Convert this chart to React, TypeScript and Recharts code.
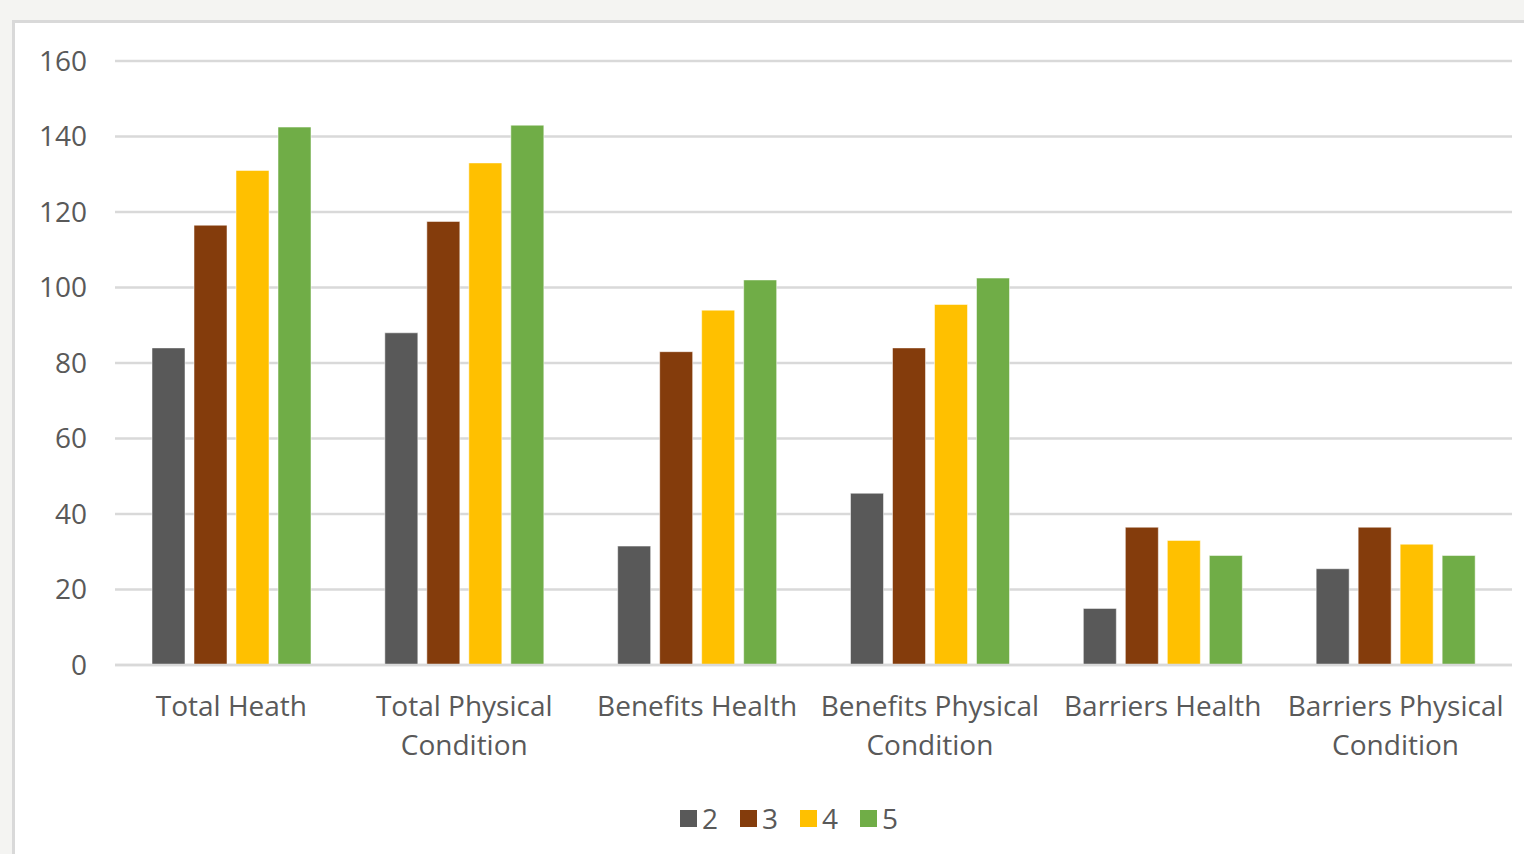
import React from 'react';
import { Bar, BarChart, CartesianGrid, XAxis, YAxis } from 'recharts';

const categories = [
  'Total Heath',
  'Total Physical\nCondition',
  'Benefits Health',
  'Benefits Physical\nCondition',
  'Barriers Health',
  'Barriers Physical\nCondition'
];

const series2 = [84, 88, 31.5, 45.5, 15, 25.5];
const series3 = [116.5, 117.5, 83, 84, 36.5, 36.5];
const series4 = [131, 133, 94, 95.5, 33, 32];
const series5 = [142.5, 143, 102, 102.5, 29, 29];

const seriesKeys = ['2', '3', '4', '5'];
const seriesColors = ['#595959', '#843c0c', '#ffc000', '#70ad47'];
const yTicks = [0, 20, 40, 60, 80, 100, 120, 140, 160];

const FONT = '"Open Sans", "Noto Sans", sans-serif';
const TEXT_COLOR = '#595959';
const FONT_SIZE = 28;

const data = categories.map((name, i) => ({
  name,
  '2': series2[i],
  '3': series3[i],
  '4': series4[i],
  '5': series5[i]
}));

const CategoryTick = (props: any) => {
  const { x, y, payload } = props;
  const lines = String(payload.value).split('\n');
  return (
    <text x={x} y={y} textAnchor="middle" fill={TEXT_COLOR} fontSize={FONT_SIZE} fontFamily={FONT}>
      {lines.map((line, i) => (
        <tspan key={i} x={x} dy={i === 0 ? 33 : 39}>
          {line}
        </tspan>
      ))}
    </text>
  );
};

const App: React.FC = () => {
  return (
    <div
      style={{
        position: 'absolute',
        left: 0,
        top: 0,
        width: 1524,
        height: 854,
        background: '#f4f4f2',
        overflow: 'hidden',
        fontFamily: FONT
      }}
    >
      <div
        style={{
          position: 'absolute',
          left: 12,
          top: 20,
          width: 1530,
          height: 860,
          background: '#ffffff',
          border: '3px solid #d9d9d9',
          boxSizing: 'border-box'
        }}
      />
      <div style={{ position: 'absolute', left: 0, top: 0 }}>
        <BarChart
          width={1524}
          height={854}
          data={data}
          margin={{ top: 61, right: 12, left: 15, bottom: 89 }}
          barSize={33}
          barGap={9}
        >
          <CartesianGrid vertical={false} stroke="#d9d9d9" strokeWidth={2.5} />
          <XAxis
            dataKey="name"
            height={100}
            tickLine={false}
            axisLine={{ stroke: '#d9d9d9', strokeWidth: 2.5 }}
            tick={<CategoryTick />}
            tickMargin={12}
            interval={0}
          />
          <YAxis
            width={100}
            domain={[0, 160]}
            ticks={yTicks}
            axisLine={false}
            tickLine={false}
            tickSize={0}
            tickMargin={28}
            tick={{ fill: TEXT_COLOR, fontSize: FONT_SIZE, fontFamily: FONT }}
          />
          {seriesKeys.map((key, i) => (
            <Bar
              key={key}
              dataKey={key}
              fill={seriesColors[i]}
              stroke="#ffffff"
              strokeOpacity={0.5}
              strokeWidth={1}
              isAnimationActive={false}
            />
          ))}
        </BarChart>
      </div>
      <div
        style={{
          position: 'absolute',
          left: 0,
          width: 1578,
          top: 799,
          display: 'flex',
          justifyContent: 'center',
          gap: 22,
          fontSize: FONT_SIZE,
          color: TEXT_COLOR,
          lineHeight: '38px'
        }}
      >
        {seriesKeys.map((key, i) => (
          <div key={key} style={{ display: 'flex', alignItems: 'center', gap: 5 }}>
            <span style={{ display: 'inline-block', width: 17, height: 17, background: seriesColors[i] }} />
            <span>{key}</span>
          </div>
        ))}
      </div>
    </div>
  );
};

export default App;
